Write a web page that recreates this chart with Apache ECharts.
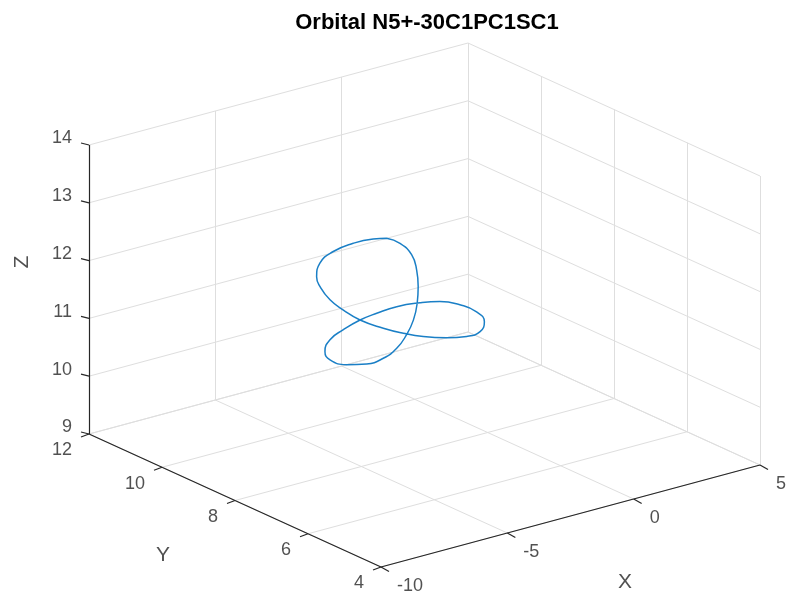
<!DOCTYPE html>
<html>
<head>
<meta charset="utf-8">
<script src="https://cdn.jsdelivr.net/npm/echarts@6/dist/echarts.min.js"></script>
<style>
  html, body { margin: 0; padding: 0; background: #fff; }
  #main { width: 788px; height: 594px; }
</style>
</head>
<body>
<div id="main"></div>
<script>
// axis limits and ticks
var xLim = [-10, 5];
var yLim = [4, 12];
var zLim = [9, 14];
var xTicks = [-10, -5, 0, 5];
var yTicks = [4, 6, 8, 10, 12];
var zTicks = [9, 10, 11, 12, 13, 14];

// orbit samples
var orbitX = [-4.00, -3.47, -3.01, -2.81, -2.75, -2.79, -2.94, -3.21, -3.60, -4.13,
              -4.79, -5.58, -6.24, -6.44, -6.24, -5.71, -5.05, -4.39, -3.60, -2.68,
              -1.89, -1.10, -0.44, -0.13, -0.30, -0.83, -1.62, -2.55, -3.34, -4.13,
              -5.05, -5.71, -6.24, -6.64, -6.77, -6.64, -6.11, -5.32, -4.53];
var orbitY = [8, 8, 8, 8, 8, 8, 8, 8, 8, 8,
              8, 8, 8, 8, 8, 8, 8, 8, 8, 8,
              8, 8, 8, 8, 8, 8, 8, 8, 8, 8,
              8, 8, 8, 8, 8, 8, 8, 8, 8];
var orbitZ = [12.83, 12.68, 12.43, 12.14, 11.85, 11.56, 11.29, 11.07, 10.88, 10.77,
              10.75, 10.83, 10.99, 11.16, 11.34, 11.45, 11.54, 11.58, 11.60, 11.56,
              11.49, 11.34, 11.14, 10.93, 10.78, 10.76, 10.83, 10.96, 11.11, 11.29,
              11.54, 11.79, 12.03, 12.31, 12.49, 12.71, 12.85, 12.90, 12.88];

// 3d view: screen position of the (xmin,ymin,zmin) corner and box edge vectors
var view = { ox: 381, oy: 567, ux: [379, -102], uy: [-292, -133], uz: [0, -289] };

function project(x, y, z) {
    var fx = (x - xLim[0]) / (xLim[1] - xLim[0]);
    var fy = (y - yLim[0]) / (yLim[1] - yLim[0]);
    var fz = (z - zLim[0]) / (zLim[1] - zLim[0]);
    return [
        view.ox + fx * view.ux[0] + fy * view.uy[0] + fz * view.uz[0],
        view.oy + fx * view.ux[1] + fy * view.uy[1] + fz * view.uz[1]
    ];
}

function seg(a, b) {
    return { coords: [project(a[0], a[1], a[2]), project(b[0], b[1], b[2])] };
}

// grid lines on the three back planes
var gridSegs = [];
xTicks.forEach(function (x) {
    gridSegs.push(seg([x, yLim[0], zLim[0]], [x, yLim[1], zLim[0]]));   // floor
    gridSegs.push(seg([x, yLim[1], zLim[0]], [x, yLim[1], zLim[1]]));   // back wall
});
yTicks.forEach(function (y) {
    gridSegs.push(seg([xLim[0], y, zLim[0]], [xLim[1], y, zLim[0]]));   // floor
    gridSegs.push(seg([xLim[1], y, zLim[0]], [xLim[1], y, zLim[1]]));   // side wall
});
zTicks.forEach(function (z) {
    gridSegs.push(seg([xLim[0], yLim[1], z], [xLim[1], yLim[1], z]));
    gridSegs.push(seg([xLim[1], yLim[0], z], [xLim[1], yLim[1], z]));
});

// axis lines and tick marks
var axisSegs = [
    seg([xLim[0], yLim[0], zLim[0]], [xLim[1], yLim[0], zLim[0]]),
    seg([xLim[0], yLim[0], zLim[0]], [xLim[0], yLim[1], zLim[0]]),
    seg([xLim[0], yLim[1], zLim[0]], [xLim[0], yLim[1], zLim[1]])
];
function tick(p, d) {
    return { coords: [p, [p[0] + d[0], p[1] + d[1]]] };
}
var labels = [];
xTicks.forEach(function (x) {
    var p = project(x, yLim[0], zLim[0]);
    axisSegs.push(tick(p, [8, 4.5]));
    labels.push({ value: [p[0] + 16, p[1] + 19], name: String(x), align: 'left' });
});
yTicks.forEach(function (y) {
    var p = project(xLim[0], y, zLim[0]);
    axisSegs.push(tick(p, [-8, 3]));
    labels.push({ value: [p[0] - 17, p[1] + 16.5], name: String(y), align: 'right' });
});
zTicks.forEach(function (z) {
    var p = project(xLim[0], yLim[1], z);
    axisSegs.push(tick(p, [-8, -2]));
    labels.push({ value: [p[0] - 17, p[1] - 6.5], name: String(z), align: 'right' });
});

var orbitPts = orbitX.map(function (x, i) {
    return project(x, orbitY[i], orbitZ[i]);
});
orbitPts.push(orbitPts[0]);

var tickLabelData = labels.map(function (l) {
    return {
        value: l.value,
        label: { formatter: l.name, align: l.align }
    };
});

var nameData = [
    { value: [625, 582], label: { formatter: 'X' } },
    { value: [163, 555], label: { formatter: 'Y' } },
    { value: [22, 262], label: { formatter: 'Z', rotate: 90 } }
];

var myChart = echarts.init(document.getElementById('main'));

var option = {
    animation: false,
    backgroundColor: '#fff',
    title: {
        text: 'Orbital N5+-30C1PC1SC1',
        left: 422,
        top: 7,
        textAlign: 'center',
        textStyle: {
            fontFamily: 'Liberation Sans',
            fontSize: 22,
            fontWeight: 'bold',
            color: '#000'
        }
    },
    grid: { left: 0, right: 0, top: 0, bottom: 0 },
    xAxis: { type: 'value', min: 0, max: 788, show: false },
    yAxis: { type: 'value', min: 0, max: 594, inverse: true, show: false },
    series: [
        {
            type: 'lines',
            coordinateSystem: 'cartesian2d',
            silent: true,
            lineStyle: { color: '#dedede', width: 1, opacity: 1 },
            data: gridSegs,
            z: 1
        },
        {
            type: 'lines',
            coordinateSystem: 'cartesian2d',
            silent: true,
            lineStyle: { color: '#262626', width: 1.2, opacity: 1 },
            data: axisSegs,
            z: 3
        },
        {
            type: 'line',
            silent: true,
            showSymbol: false,
            smooth: 0.5,
            lineStyle: { color: '#1a7fc6', width: 1.5 },
            data: orbitPts,
            z: 4
        },
        {
            type: 'scatter',
            silent: true,
            symbolSize: 0,
            label: {
                show: true,
                position: [0, 0],
                verticalAlign: 'middle',
                fontFamily: 'Liberation Sans',
                fontSize: 18,
                color: '#262626'
            },
            data: tickLabelData,
            z: 5
        },
        {
            type: 'scatter',
            silent: true,
            symbolSize: 0,
            label: {
                show: true,
                position: [0, 0],
                align: 'center',
                verticalAlign: 'middle',
                fontFamily: 'Liberation Sans',
                fontSize: 21,
                color: '#262626'
            },
            data: nameData,
            z: 5
        }
    ]
};

myChart.setOption(option);

window.addEventListener("resize", function () {
    myChart.resize();
});
</script>
</body>
</html>
